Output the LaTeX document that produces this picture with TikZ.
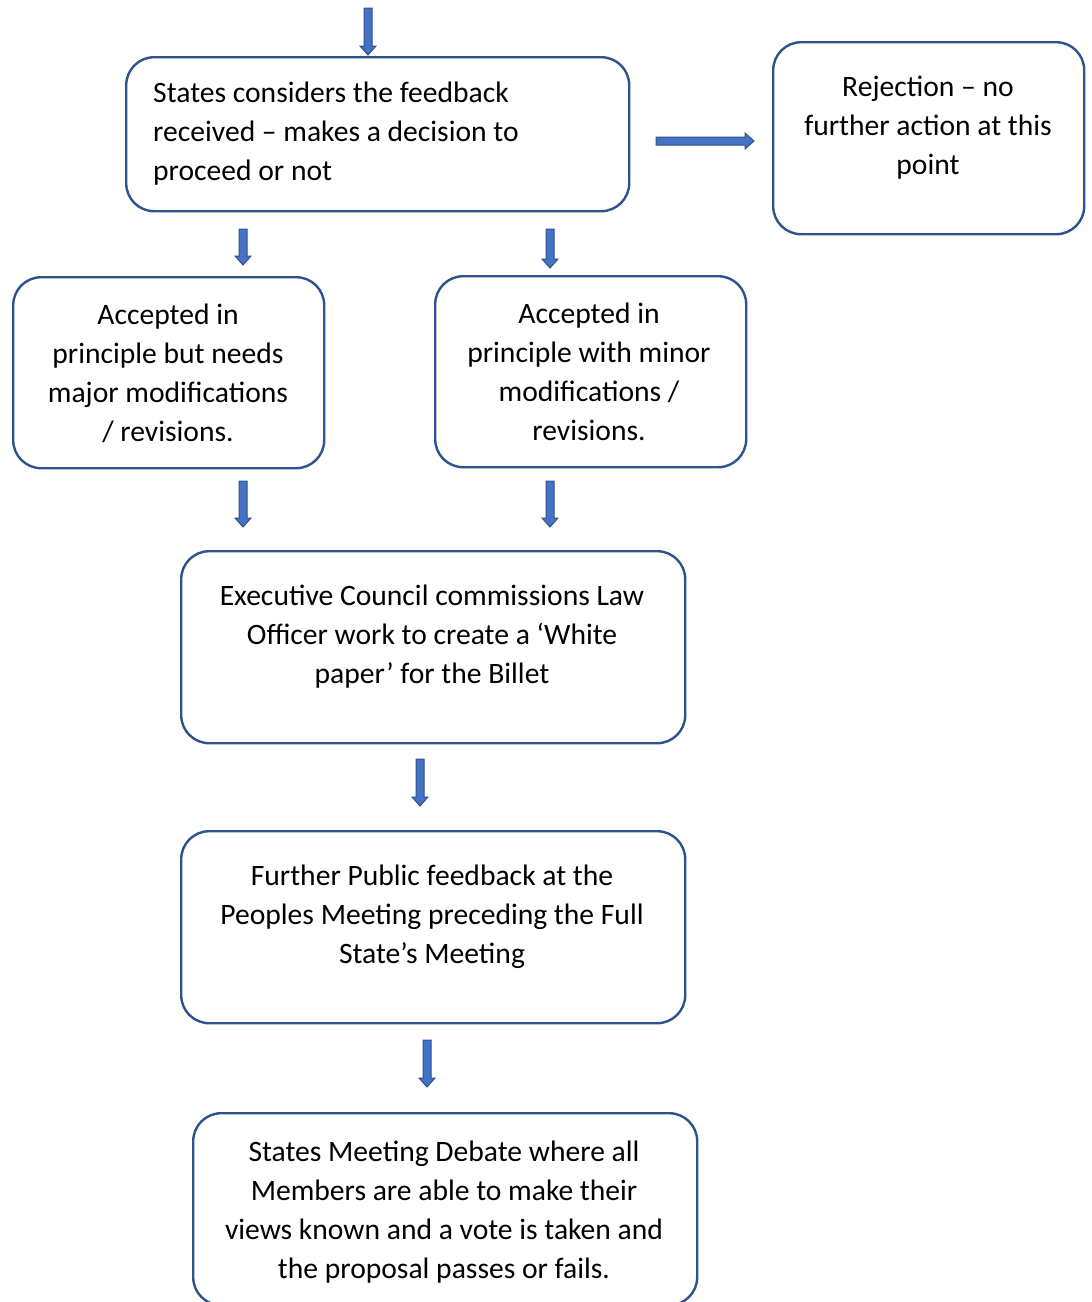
\documentclass[tikz,border=0pt]{standalone}
\usepackage{fontspec}
\setmainfont{Carlito}
\definecolor{edge}{HTML}{2F528F}
\definecolor{afill}{HTML}{4472C4}
\tikzset{
  box/.style={draw=edge, line width=2.4pt, rounded corners=28pt, inner sep=0pt, anchor=north west},
  txt/.style={font=\fontsize{29.6}{39}\selectfont, inner sep=0pt, align=center, text=black, anchor=north},
  arrowst/.style={draw=edge, fill=afill, line width=1pt, line join=miter},
  pics/darrow/.style={code={\filldraw[arrowst] (-4,0) -- (4,0) -- (4,#1-9) -- (8,#1-9) -- (0,#1) -- (-8,#1-9) -- (-4,#1-9) -- cycle;}},
  pics/rarrow/.style={code={\filldraw[arrowst] (0,-4) -- (#1-9,-4) -- (#1-9,-8) -- (#1,0) -- (#1-9,8) -- (#1-9,4) -- (0,4) -- cycle;}}
}
\begin{document}
\begin{tikzpicture}[x=1pt,y=-1pt]
\useasboundingbox (0,0) rectangle (1092,1302);
% boxes
\node[box, minimum width=503pt, minimum height=154pt] (b1) at (125,56) {};
\node[box, minimum width=311pt, minimum height=192pt] (b2) at (772,41) {};
\node[box, minimum width=311pt, minimum height=191pt] (b3) at (12,276) {};
\node[box, minimum width=311pt, minimum height=191pt] (b4) at (434,275) {};
\node[box, minimum width=504pt, minimum height=192pt] (b5) at (180,550) {};
\node[box, minimum width=504pt, minimum height=192pt] (b6) at (180,830) {};
\node[box, minimum width=504pt, minimum height=192pt] (b7) at (192,1112) {};
% texts
\node[txt, align=left, anchor=north west] (t1) at (153,82) {States considers the feedback\\received – makes a decision to\\proceed or not};
\node[txt] (t2) at (928,76) {Rejection – no\\further action at this\\point};
\node[txt] (t3) at (168,304) {Accepted in\\principle but needs\\major modifications\\/ revisions.};
\node[txt] (t4) at (589,303) {Accepted in\\principle with minor\\modifications /\\revisions.};
\node[txt] (t5) at (432,585) {Executive Council commissions Law\\Officer work to create a ‘White\\paper’ for the Billet};
\node[txt] (t6) at (432,865) {Further Public feedback at the\\Peoples Meeting preceding the Full\\State’s Meeting};
\node[txt] (t7) at (444,1141) {States Meeting Debate where all\\Members are able to make their\\views known and a vote is taken and\\the proposal passes or fails.};
% arrows
\pic (a0) at (368,8) {darrow=47};
\pic (ar) at (656,141) {rarrow=98};
\pic (a1) at (243,229) {darrow=36};
\pic (a2) at (550,229) {darrow=39};
\pic (a3) at (243,481) {darrow=46};
\pic (a4) at (550,481) {darrow=46};
\pic (a5) at (420,759) {darrow=47};
\pic (a6) at (427,1040) {darrow=47};
\end{tikzpicture}
\end{document}
